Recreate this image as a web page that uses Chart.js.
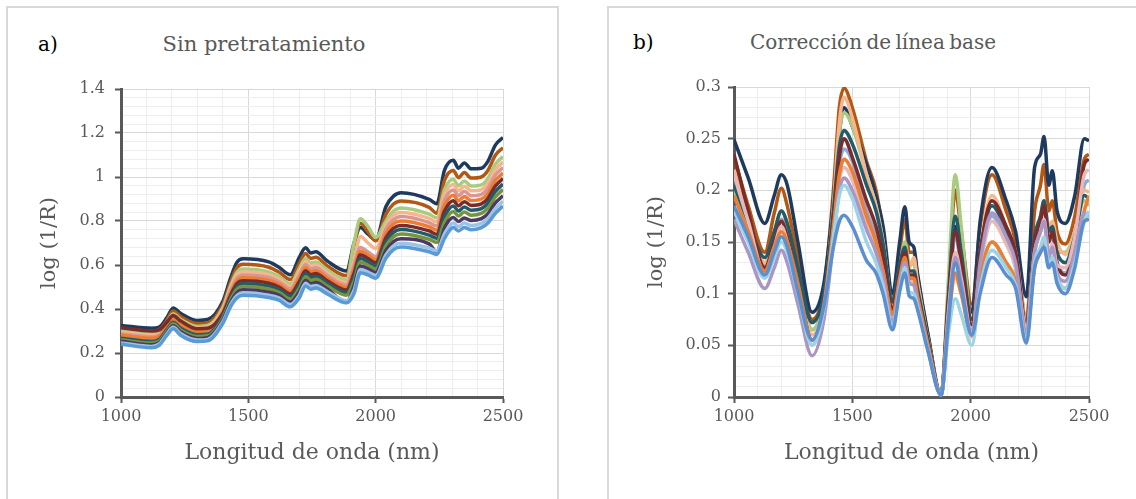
<!DOCTYPE html>
<html>
<head>
<meta charset="utf-8">
<script src="https://cdn.jsdelivr.net/npm/chart.js@4.4.0/dist/chart.umd.min.js"></script>
<style>
  body { margin: 0; background: #fff; width: 1136px; height: 499px; overflow: hidden; position: relative; font-family: "DejaVu Serif", serif; }
  .box { position: absolute; top: 6px; height: 540px; border: 2px solid #d9d9d9; box-sizing: border-box; background: #fff; }
  .tag { position: absolute; font-size: 20px; line-height: 22px; color: #000; }
  .ttl { position: absolute; color: #595959; white-space: nowrap; transform: translateX(-50%); line-height: 24px; }
  canvas { position: absolute; top: 10px; }
</style>
</head>
<body>
<div class="box" style="left:6px;width:553px"></div>
<div class="box" style="left:607px;width:600px"></div>
<div class="tag" style="left:38px;top:33px">a)</div>
<div class="tag" style="left:633px;top:31px">b)</div>
<div class="ttl" style="left:264px;top:32px;font-size:21px">Sin pretratamiento</div>
<div class="ttl" style="left:873px;top:30px;font-size:20px;word-spacing:-2px">Corrección de línea base</div>
<canvas id="chartA" width="540" height="480" style="left:10px"></canvas>
<canvas id="chartB" width="526" height="480" style="left:610px"></canvas>
<script>
// a) Sin pretratamiento - wavelengths (nm)
const wavelengthsA = [1000, 1120, 1150, 1180, 1205, 1235, 1300, 1340, 1400, 1430, 1455, 1480, 1580, 1620, 1665, 1700, 1725, 1745, 1765, 1810, 1885, 1915, 1940, 1970, 2000, 2040, 2070, 2100, 2210, 2240, 2270, 2305, 2325, 2348, 2375, 2415, 2440, 2470, 2500];

const navyA    = [.325,.313,.318,.360,.405,.380,.348,.352,.435,.540,.612,.628,.614,.590,.556,.635,.678,.655,.660,.618,.573,.700,.770,.740,.715,.865,.913,.928,.898,.878,1.030,1.076,1.040,1.064,1.037,1.040,1.070,1.145,1.180];
const brownA   = [.312,.300,.306,.348,.391,.365,.334,.337,.420,.521,.588,.603,.590,.568,.534,.607,.652,.630,.635,.596,.551,.690,.790,.750,.710,.830,.877,.891,.862,.835,.984,1.030,.997,1.020,.995,1.000,1.028,1.099,1.133];
const lgreenA  = [.301,.288,.295,.338,.378,.352,.321,.325,.407,.504,.567,.582,.569,.548,.515,.583,.630,.609,.614,.576,.532,.700,.810,.775,.725,.799,.845,.859,.831,.814,.943,.990,.960,.982,.959,.964,.992,1.058,1.093];
const peachA   = [.294,.281,.288,.331,.371,.344,.313,.317,.399,.493,.554,.568,.556,.536,.503,.568,.616,.596,.601,.564,.521,.617,.730,.700,.675,.780,.826,.839,.812,.795,.918,.966,.937,.958,.937,.943,.969,1.033,1.068];
const salmonA  = [.288,.274,.281,.325,.363,.336,.306,.309,.391,.483,.541,.555,.543,.524,.492,.554,.602,.582,.587,.552,.509,.599,.680,.659,.638,.762,.806,.820,.793,.777,.894,.941,.915,.935,.915,.921,.947,1.009,1.043];
const orangeA  = [.281,.267,.275,.318,.356,.328,.298,.302,.383,.472,.528,.542,.530,.512,.480,.539,.588,.569,.574,.540,.498,.580,.663,.644,.624,.743,.787,.800,.774,.758,.869,.917,.892,.911,.893,.900,.924,.984,1.018];
const dredA    = [.315,.300,.305,.340,.370,.345,.310,.312,.380,.462,.515,.528,.517,.500,.468,.524,.574,.556,.561,.528,.486,.562,.647,.629,.610,.724,.767,.780,.755,.740,.844,.892,.869,.888,.871,.878,.902,.959,.993];
const tealA    = [.267,.252,.262,.306,.340,.312,.283,.286,.367,.452,.502,.515,.504,.488,.457,.509,.560,.543,.548,.516,.474,.544,.631,.614,.596,.705,.748,.761,.736,.722,.819,.868,.846,.864,.849,.856,.880,.934,.968];
const greenA   = [.260,.245,.255,.299,.333,.304,.275,.278,.359,.441,.489,.502,.491,.476,.445,.494,.547,.530,.535,.504,.463,.525,.614,.599,.582,.686,.728,.741,.717,.703,.794,.843,.823,.841,.826,.835,.857,.909,.943];
const dpurpleA = [.253,.237,.247,.292,.324,.295,.266,.270,.350,.430,.474,.487,.476,.463,.432,.478,.531,.515,.520,.491,.430,.505,.596,.583,.566,.665,.706,.719,.696,.660,.767,.816,.798,.814,.802,.811,.832,.882,.915];
const steelA   = [.246,.230,.241,.286,.317,.287,.259,.262,.342,.419,.461,.474,.463,.451,.420,.463,.517,.502,.507,.479,.438,.486,.579,.568,.552,.646,.687,.699,.677,.664,.742,.791,.775,.791,.779,.789,.810,.857,.890];
const blueA    = [.240,.224,.235,.280,.310,.280,.252,.255,.335,.410,.450,.462,.452,.440,.410,.450,.505,.490,.495,.468,.428,.470,.565,.555,.540,.630,.670,.682,.660,.648,.720,.770,.755,.770,.760,.770,.790,.835,.868];

// b) Corrección de línea base
const wavelengthsB = [1000, 1060, 1130, 1170, 1200, 1225, 1270, 1330, 1380, 1420, 1445, 1465, 1500, 1560, 1600, 1630, 1670, 1700, 1722, 1740, 1760, 1775, 1820, 1875, 1905, 1935, 1960, 2005, 2040, 2090, 2150, 2190, 2235, 2270, 2295, 2310, 2330, 2345, 2365, 2400, 2440, 2480, 2500];

const navyB   = [.249,.212,.168,.195,.215,.205,.150,.082,.110,.190,.255,.280,.262,.225,.195,.165,.100,.150,.184,.150,.145,.120,.060,.002,.080,.165,.140,.082,.170,.222,.190,.160,.097,.222,.235,.252,.205,.219,.180,.168,.195,.250,.248];
const brownB  = [.232,.185,.140,.178,.202,.185,.135,.075,.105,.200,.280,.299,.280,.228,.200,.160,.095,.140,.172,.140,.140,.118,.060,.002,.100,.200,.160,.090,.165,.215,.180,.150,.075,.180,.205,.225,.180,.190,.160,.148,.175,.230,.235];
const lgreenB = [.200,.170,.130,.150,.170,.160,.120,.065,.095,.180,.255,.275,.262,.215,.185,.150,.090,.125,.150,.130,.128,.110,.055,.002,.110,.215,.165,.075,.120,.150,.130,.115,.065,.140,.160,.170,.150,.160,.140,.140,.160,.190,.185];
const peachB  = [.220,.175,.130,.160,.180,.168,.120,.060,.092,.185,.265,.290,.270,.215,.185,.150,.088,.125,.145,.125,.135,.112,.055,.002,.075,.115,.100,.058,.140,.195,.165,.140,.075,.150,.175,.190,.165,.170,.150,.138,.160,.200,.198];
const tealB   = [.205,.170,.135,.160,.180,.168,.125,.072,.100,.180,.242,.258,.245,.205,.180,.148,.092,.128,.145,.122,.122,.105,.055,.002,.095,.175,.140,.075,.140,.185,.160,.135,.070,.155,.175,.190,.160,.165,.140,.130,.155,.195,.192];
const dredB   = [.235,.180,.125,.150,.170,.155,.110,.055,.090,.170,.232,.250,.232,.190,.165,.135,.085,.120,.140,.118,.118,.100,.052,.002,.090,.160,.130,.070,.140,.190,.165,.140,.068,.150,.170,.185,.150,.160,.130,.118,.150,.225,.230];
const steelB  = [.195,.165,.128,.150,.172,.160,.115,.065,.095,.170,.225,.240,.228,.180,.155,.125,.075,.115,.138,.110,.112,.095,.048,.002,.085,.155,.125,.065,.130,.175,.150,.125,.058,.145,.170,.185,.150,.155,.130,.120,.150,.205,.210];
const pinkB   = [.215,.170,.120,.145,.165,.150,.105,.050,.085,.160,.210,.222,.210,.170,.148,.120,.078,.112,.132,.112,.112,.095,.048,.002,.080,.140,.115,.062,.125,.170,.148,.125,.068,.140,.160,.172,.140,.148,.128,.125,.155,.215,.220];
const orangeB = [.195,.160,.122,.145,.160,.150,.110,.055,.090,.165,.215,.230,.218,.175,.150,.122,.080,.115,.135,.115,.115,.098,.050,.002,.070,.120,.100,.060,.115,.150,.130,.112,.062,.125,.140,.150,.130,.135,.115,.105,.130,.180,.195];
const purpleB = [.172,.140,.105,.125,.142,.130,.090,.040,.075,.150,.200,.212,.200,.162,.140,.115,.072,.110,.130,.110,.108,.092,.046,.002,.075,.135,.110,.060,.130,.178,.155,.130,.060,.140,.160,.170,.135,.145,.120,.112,.140,.178,.175];
const cyanB   = [.180,.150,.115,.135,.150,.140,.100,.050,.085,.155,.195,.205,.192,.150,.130,.108,.068,.105,.125,.102,.100,.088,.045,.002,.060,.095,.080,.050,.105,.142,.125,.108,.055,.130,.145,.155,.128,.135,.115,.105,.130,.170,.180];
const blueB   = [.185,.155,.118,.140,.155,.145,.102,.055,.088,.145,.170,.176,.165,.132,.120,.100,.065,.102,.120,.098,.095,.085,.044,.002,.070,.130,.105,.060,.100,.135,.118,.105,.052,.125,.140,.145,.125,.130,.110,.100,.125,.170,.172];

const seriesA = [
    [blueA, '#5b9bd5'], [steelA, '#9dc3e6'], [dpurpleA, '#4b3a62'], [greenA, '#77933c'],
    [tealA, '#215c6b'], [dredA, '#7b2c2a'], [orangeA, '#ed7d31'], [salmonA, '#d99694'],
    [peachA, '#f6b58a'], [lgreenA, '#a9cb80'], [brownA, '#b45712'], [navyA, '#1f3a5f']
];
const seriesB = [
    [blueB, '#5b8fd0'], [cyanB, '#9dd3e6'], [purpleB, '#a996c4'], [orangeB, '#ed7d31'],
    [pinkB, '#e6b9b8'], [dredB, '#7b2c2a'], [tealB, '#215c6b'], [peachB, '#f6b58a'],
    [lgreenB, '#a9cb80'], [steelB, '#8eaadb'], [navyB, '#1f3a5f'], [brownB, '#b45712']
];

const FONT = 'DejaVu Serif';
const GREY = '#595959';

function isMajor(v, step) {
    return Math.abs(v / step - Math.round(v / step)) < 1e-6;
}

function makeChart(id, xs, series, yMax, yStep, yMajor, pad, yWidth, yLabelPad, top) {
    const datasets = series.map(([vals, color]) => ({
        data: xs.map((x, i) => ({ x: x, y: vals[i] })),
        borderColor: color,
        borderWidth: 3.5,
        pointRadius: 0,
        fill: false,
        cubicInterpolationMode: 'monotone'
    }));

    return new Chart(document.getElementById(id), {
        type: 'line',
        data: { datasets: datasets },
        options: {
            responsive: false,
            animation: false,
            devicePixelRatio: 1,
            layout: { padding: { left: pad, right: 47, top: top, bottom: 20 } },
            plugins: { legend: { display: false }, tooltip: { enabled: false } },
            scales: {
                x: {
                    type: 'linear',
                    min: 1000,
                    max: 2500,
                    afterFit: s => { s.height = 73; },
                    border: { color: GREY, width: 3 },
                    grid: {
                        color: c => isMajor(c.tick.value, 500) ? '#d9d9d9' : '#eeeeee',
                        tickColor: c => isMajor(c.tick.value, 500) ? GREY : 'rgba(0,0,0,0)',
                        tickLength: 6,
                        tickWidth: 2
                    },
                    ticks: {
                        stepSize: 100,
                        autoSkip: false,
                        maxRotation: 0,
                        padding: 4,
                        color: GREY,
                        font: { family: FONT, size: 16 },
                        callback: v => isMajor(v, 500) ? String(v) : ''
                    },
                    title: {
                        display: true,
                        text: 'Longitud de onda (nm)',
                        color: GREY,
                        font: { family: FONT, size: 22 },
                        padding: { top: 4, bottom: 4 }
                    }
                },
                y: {
                    min: 0,
                    max: yMax,
                    afterFit: s => { s.width = yWidth; },
                    border: { color: GREY, width: 3 },
                    grid: {
                        color: c => isMajor(c.tick.value, yMajor) ? '#d9d9d9' : '#eeeeee',
                        tickColor: c => isMajor(c.tick.value, yMajor) ? GREY : 'rgba(0,0,0,0)',
                        tickLength: 6,
                        tickWidth: 2
                    },
                    ticks: {
                        stepSize: yStep,
                        maxTicksLimit: 100,
                        autoSkip: false,
                        padding: yLabelPad,
                        color: GREY,
                        font: { family: FONT, size: 16 },
                        callback: v => isMajor(v, yMajor) ? String(parseFloat(v.toFixed(2))) : ''
                    },
                    title: {
                        display: true,
                        text: 'log (1/R)',
                        color: GREY,
                        font: { family: FONT, size: 21 },
                        padding: { top: 4, bottom: 4 }
                    }
                }
            }
        }
    });
}

makeChart('chartA', wavelengthsA, seriesA, 1.4, 0.04, 0.2, 23, 88, 10, 79);
makeChart('chartB', wavelengthsB, seriesB, 0.3, 0.01, 0.05, 30, 94, 7, 77);
</script>
</body>
</html>
